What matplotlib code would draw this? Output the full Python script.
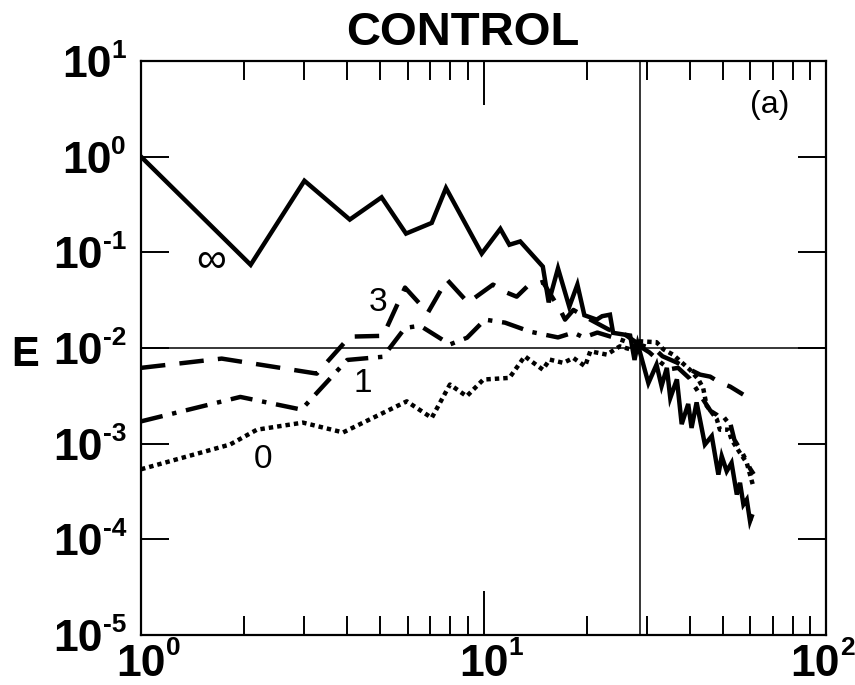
import numpy as np
import matplotlib
matplotlib.use("Agg")
import matplotlib.pyplot as plt

plt.rcParams['font.family'] = ['Liberation Sans', 'DejaVu Sans']

# ---- data (wavenumber k, energy E) ----
k_inf = [1.0, 2.09, 3.0, 4.07, 5.04, 5.94, 7.06, 7.77, 9.88, 11.2, 11.9, 12.8, 14.9, 15.5,
         16.5, 17.8, 18.8, 19.7, 21.4, 22.2, 23.4, 23.9, 26.8, 27.6, 28.2, 30.3, 32.0, 33.1,
         34.3, 35.1, 36.7, 37.9, 39.6, 40.5, 41.9, 44.3, 46.4, 48.5, 49.6, 51.3, 53.0, 54.9,
         56.1, 57.4, 58.7, 60.0, 60.7]
E_inf = [1.0, 0.074, 0.56, 0.22, 0.376, 0.157, 0.203, 0.47, 0.097, 0.176, 0.12, 0.13, 0.071, 0.030,
         0.068, 0.027, 0.046, 0.022, 0.0198, 0.0215, 0.0223, 0.0144, 0.0135, 0.0075, 0.011, 0.0043, 0.0067, 0.0040,
         0.0062, 0.0030, 0.0047, 0.0016, 0.0026, 0.00146, 0.0027, 0.00098, 0.0012, 0.000475, 0.00074, 0.000515, 0.00063, 0.000294,
         0.00039, 0.000231, 0.00026, 0.000155, 0.000174]

k_3 = [1.0, 1.72, 3.26, 4.07, 5.09, 5.9, 6.88, 7.82, 9.01, 10.66, 11.7, 12.5, 13.4, 14.9,
       16.8, 17.3, 18.3, 20.5, 23.2, 25.9, 28.6, 31.7, 33.3, 36.7, 40.1, 42.9, 45.9, 49.0,
       52.5, 57.3]
E_3 = [0.0062, 0.00775, 0.0054, 0.01315, 0.0134, 0.0428, 0.0234, 0.0519, 0.0298, 0.046, 0.0379, 0.0344, 0.0438, 0.049,
       0.0245, 0.0198, 0.025, 0.0198, 0.0156, 0.0138, 0.0108, 0.0097, 0.0082, 0.00704, 0.00594, 0.00527, 0.00502, 0.00435,
       0.00395, 0.00326]

k_1 = [1.0, 1.95, 2.94, 4.0, 5.09, 5.9, 6.53, 7.98, 8.95, 10.1, 11.56, 13.7, 16.5, 18.3,
       19.6, 21.5, 25.0, 28.6, 30.5, 33.0, 35.0, 37.0, 40.0, 43.0, 46.0, 48.0, 50.0, 52.0,
       54.0, 57.0, 60.0, 61.5]
E_1 = [0.00171, 0.00308, 0.00227, 0.0075, 0.0081, 0.0162, 0.0171, 0.0109, 0.0128, 0.0198, 0.0184, 0.0148, 0.0129, 0.0145,
       0.0129, 0.0145, 0.0123, 0.0104, 0.0090, 0.0070, 0.0060, 0.0062, 0.0048, 0.0032, 0.0022, 0.0020, 0.0017, 0.0019,
       0.0011, 0.0008, 0.00055, 0.00048]

k_0 = [1.0, 1.82, 2.18, 2.97, 3.89, 5.97, 7.06, 7.98, 8.93, 9.99, 11.9, 13.2, 13.8, 14.9,
       15.6, 17.1, 18.3, 19.8, 20.5, 22.9, 25.0, 26.8, 28.6, 32.0, 33.5, 35.8, 40.1, 42.4,
       43.8, 44.8, 48.0, 49.0, 51.9, 53.0, 56.1, 58.7, 61.3]
E_0 = [0.00054, 0.00098, 0.0014, 0.00166, 0.00131, 0.00277, 0.00186, 0.00415, 0.00313, 0.00468, 0.00487, 0.0082, 0.00726, 0.00594,
       0.00757, 0.00699, 0.00787, 0.00644, 0.00924, 0.00853, 0.0104, 0.0097, 0.01175, 0.0115, 0.0097, 0.0085, 0.0059, 0.0047,
       0.0038, 0.0025, 0.0018, 0.0014, 0.0014, 0.0011, 0.0008, 0.00063, 0.00036]

curve_labels = ["\u221e", "3", "1", "0"]
x_ticks = [1, 10, 100]
x_exps = ["0", "1", "2"]
y_ticks = [1e-5, 1e-4, 1e-3, 1e-2, 1e-1, 1e0, 1e1]
y_exps = ["-5", "-4", "-3", "-2", "-1", "0", "1"]
ref_E = 1e-2
ref_k = 28.6

fig = plt.figure(figsize=(8.55, 6.85), dpi=100)
ax = fig.add_axes([141/855, 50/685, 685/855, 574/685])

lw = 3.2
ax.plot(k_inf, E_inf, color='black', lw=lw, solid_joinstyle='miter')
ax.plot(k_3, E_3, color='black', lw=lw, dashes=(5.5, 3.2), dash_capstyle='butt')
ax.plot(k_1, E_1, color='black', lw=lw, dashes=(5.0, 2.2, 1.0, 2.2), dash_capstyle='butt')
ax.plot(k_0, E_0, color='black', lw=lw, dashes=(1.0, 0.9), dash_capstyle='butt')

ax.axhline(ref_E, color='black', lw=1.1)
ax.axvline(ref_k, color='black', lw=1.1)

ax.set_xscale('log')
ax.set_yscale('log')
ax.set_xlim(1, 100)
ax.set_ylim(1e-5, 1e1)

ax.set_xticks(x_ticks)
ax.set_yticks(y_ticks)
ax.set_xticklabels([])
ax.set_yticklabels([])
ax.xaxis.set_minor_locator(matplotlib.ticker.LogLocator(base=10, subs=np.arange(2, 10)))
ax.xaxis.set_minor_formatter(matplotlib.ticker.NullFormatter())
ax.yaxis.set_minor_locator(matplotlib.ticker.NullLocator())

ax.tick_params(axis='x', which='major', direction='in', length=32, width=1.4, top=True, bottom=True)
ax.tick_params(axis='x', which='minor', direction='in', length=14, width=1.4, top=True, bottom=True)
ax.tick_params(axis='y', which='major', direction='in', length=20, width=1.4, left=True, right=True)
for s in ax.spines.values():
    s.set_linewidth(1.6)

BASE_FS = 32
EXP_FS = 19
WT = 'bold'

# x tick labels: base "10" centred on tick, exponent at its upper right
for i, (xv, ex) in enumerate(zip(x_ticks, x_exps)):
    shift = -11 if i == len(x_ticks) - 1 else 0
    b = ax.annotate("10", xy=(xv, 0), xycoords=('data', 'axes fraction'),
                    xytext=(shift, -41), textcoords='offset pixels', fontweight=WT,
                    ha='center', va='baseline', fontsize=BASE_FS, annotation_clip=False)
    ax.annotate(ex, xy=(1, 0), xycoords=(b, 'axes fraction'),
                xytext=(0, -20), textcoords='offset pixels', fontweight=WT,
                ha='left', va='baseline', fontsize=EXP_FS, annotation_clip=False)

# y tick labels: exponent right-aligned near the axis, base "10" to its left
for yv, ex in zip(y_ticks, y_exps):
    e = ax.annotate(ex, xy=(0, yv), xycoords=('axes fraction', 'data'),
                    xytext=(-15, 3), textcoords='offset pixels', fontweight=WT,
                    ha='right', va='baseline', fontsize=EXP_FS, annotation_clip=False)
    ax.annotate("10", xy=(0, yv), xycoords=(e, 'data'),
                xytext=(0, -16), textcoords='offset pixels', fontweight=WT,
                ha='right', va='baseline', fontsize=BASE_FS, annotation_clip=False)

fig.text(463/855, 1 - 45/685, "CONTROL", ha='center', va='baseline', fontsize=34, fontweight=WT)
fig.text(25/855, 1 - 366/685, "E", ha='center', va='baseline', fontsize=30, fontweight=WT)

label_pos = [(0.102, 0.652), (0.346, 0.580), (0.324, 0.439), (0.178, 0.305)]
label_fs = [30, 24, 24, 24]
for txt, (xf, yf), fs in zip(curve_labels, label_pos, label_fs):
    ax.text(xf, yf, txt, transform=ax.transAxes, ha='center', va='center', fontsize=fs)
ax.text(0.918, 0.923, "(a)", transform=ax.transAxes, ha='center', va='center', fontsize=23)

fig.savefig("out.png", dpi=100)
